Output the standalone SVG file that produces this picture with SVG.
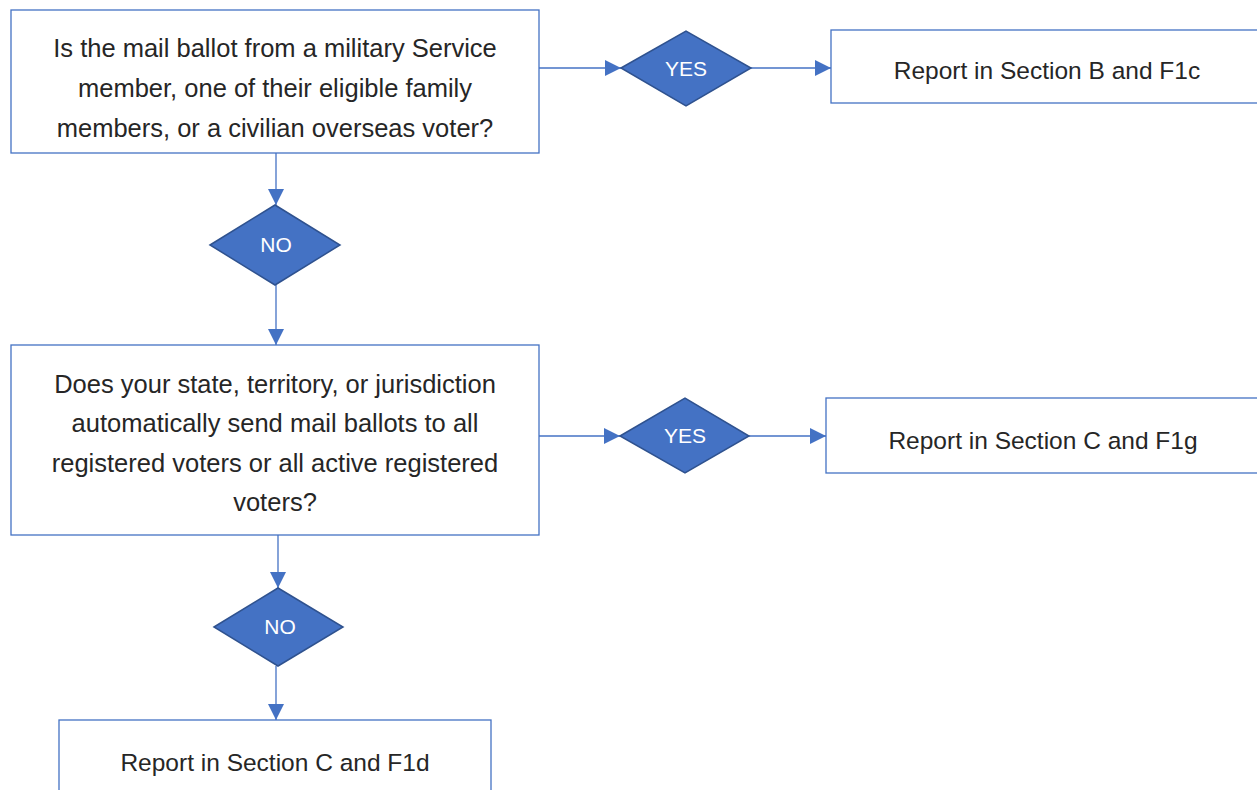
<svg xmlns="http://www.w3.org/2000/svg" width="1257" height="790" viewBox="0 0 1257 790">
<defs>
<style>
.box{fill:#fff;stroke:#4472C4;stroke-width:1.3}
.dia{fill:#4472C4;stroke:#2F528F;stroke-width:1.5}
.t{font-family:"Liberation Sans",Arial,sans-serif;font-size:25.5px;fill:#262626;text-anchor:middle}
.r{font-family:"Liberation Sans",Arial,sans-serif;font-size:24.5px;fill:#262626;text-anchor:middle}
.d{font-family:"Liberation Sans",Arial,sans-serif;font-size:21px;fill:#fff;text-anchor:middle}
.c{stroke:#4472C4;stroke-width:1.3;fill:none}
</style>
<marker id="ah" viewBox="0 0 10 10" refX="10" refY="5" markerWidth="16" markerHeight="16" markerUnits="userSpaceOnUse" orient="auto">
<path d="M0,0 L10,5 L0,10 z" fill="#4472C4"/>
</marker>
</defs>
<rect width="1257" height="790" fill="#fff"/>
<g id="connectors">
<line class="c" x1="539" y1="68" x2="621" y2="68" marker-end="url(#ah)"/>
<line class="c" x1="751" y1="68" x2="831" y2="68" marker-end="url(#ah)"/>
<line class="c" x1="276" y1="153" x2="276" y2="205" marker-end="url(#ah)"/>
<line class="c" x1="276" y1="285" x2="276" y2="345" marker-end="url(#ah)"/>
<line class="c" x1="539" y1="436" x2="620" y2="436" marker-end="url(#ah)"/>
<line class="c" x1="749" y1="436" x2="826" y2="436" marker-end="url(#ah)"/>
<line class="c" x1="278" y1="535" x2="278" y2="588" marker-end="url(#ah)"/>
<line class="c" x1="276" y1="666" x2="276" y2="720" marker-end="url(#ah)"/>
</g>
<g id="q1">
<rect class="box" x="11" y="10" width="528" height="143"/>
<text class="t" x="275" y="57">Is the mail ballot from a military Service</text>
<text class="t" x="275" y="97">member, one of their eligible family</text>
<text class="t" x="275" y="137">members, or a civilian overseas voter?</text>
</g>
<g id="yes1">
<polygon class="dia" points="621,68 686,31 751,68 686,106"/>
<text class="d" x="686" y="76">YES</text>
</g>
<g id="r1">
<rect class="box" x="831" y="30" width="430" height="73"/>
<text class="r" x="1047" y="79">Report in Section B and F1c</text>
</g>
<g id="no1">
<polygon class="dia" points="210,245 275,205 340,245 275,285"/>
<text class="d" x="276" y="252">NO</text>
</g>
<g id="q2">
<rect class="box" x="11" y="345" width="528" height="190"/>
<text class="t" x="275" y="393">Does your state, territory, or jurisdiction</text>
<text class="t" x="275" y="432">automatically send mail ballots to all</text>
<text class="t" x="275" y="472">registered voters or all active registered</text>
<text class="t" x="275" y="511">voters?</text>
</g>
<g id="yes2">
<polygon class="dia" points="620,436 685,398 749,436 685,473"/>
<text class="d" x="685" y="443">YES</text>
</g>
<g id="r2">
<rect class="box" x="826" y="398" width="435" height="75"/>
<text class="r" x="1043" y="449">Report in Section C and F1g</text>
</g>
<g id="no2">
<polygon class="dia" points="214,627 278,588 343,627 278,666"/>
<text class="d" x="280" y="634">NO</text>
</g>
<g id="r3">
<rect class="box" x="59" y="720" width="432" height="80"/>
<text class="r" x="275" y="771">Report in Section C and F1d</text>
</g>
</svg>
